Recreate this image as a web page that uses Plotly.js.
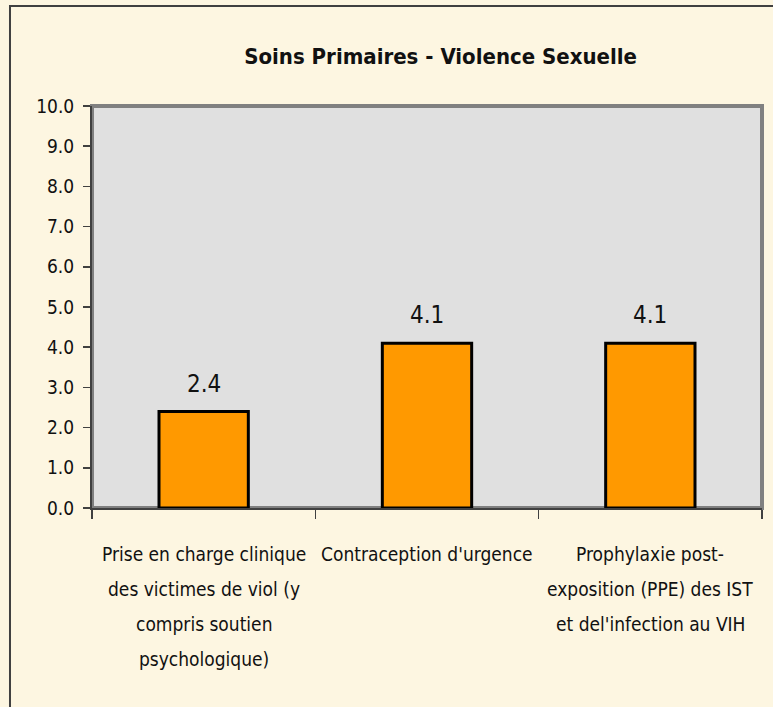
<!DOCTYPE html>
<html><head><meta charset="utf-8">
<script src="https://cdn.plot.ly/plotly-3.0.1.min.js"></script>
<style>html,body{margin:0;padding:0;background:#FDF6E1;} #chart{width:773px;height:707px;}</style>
</head><body><div id="chart"></div>
<script>
const categories = ["Prise en charge clinique des victimes de viol (y compris soutien psychologique)", "Contraception d'urgence", "Prophylaxie post-exposition (PPE) des IST et del'infection au VIH"];
const labelLines = [
  ["Prise en charge clinique", "des victimes de viol (y", "compris soutien", "psychologique)"],
  ["Contraception d'urgence"],
  ["Prophylaxie post-", "exposition (PPE) des IST", "et del'infection au VIH"]
];
const values = [2.4, 4.1, 4.1];
const yTicks = [0, 1, 2, 3, 4, 5, 6, 7, 8, 9, 10];
const yTickText = yTicks.map(v => v.toFixed(1));
const titleText = "Soins Primaires - Violence Sexuelle";

const FONT = "'DejaVu Sans Condensed', 'Liberation Sans Narrow', sans-serif";

const annotations = [];
values.forEach((v, i) => {
  annotations.push({
    x: categories[i], y: v, xref: 'x', yref: 'y',
    text: v.toFixed(1), showarrow: false, yanchor: 'bottom', yshift: 12,
    font: {family: FONT, size: 24, color: '#111'}
  });
});
labelLines.forEach((lines, i) => {
  lines.forEach((ln, j) => {
    annotations.push({
      x: categories[i], y: 0, xref: 'x', yref: 'paper',
      text: ln, showarrow: false, yanchor: 'middle', yshift: -(46 + j * 35),
      font: {family: FONT, size: 19, color: '#111'}
    });
  });
});

const trace = {
  type: 'bar', x: categories, y: values, width: 0.4,
  marker: {color: '#FF9900', line: {color: '#000', width: 3}},
  hoverinfo: 'skip'
};

const layout = {
  width: 773, height: 707,
  margin: {l: 92, r: 11, t: 106, b: 199},
  paper_bgcolor: '#FDF6E1', plot_bgcolor: '#E0E0E0',
  showlegend: false,
  title: {text: titleText, x: 0.57, xanchor: 'center', y: 0.92, yanchor: 'middle',
          font: {family: FONT, size: 22, color: '#111', weight: 'bold'}},
  xaxis: {type: 'category', range: [-0.5, 2.5], showticklabels: false, tickson: 'boundaries', ticks: 'outside',
          ticklen: 9, tickcolor: '#404040', tickwidth: 1.5, showline: true, linecolor: '#404040',
          linewidth: 2, showgrid: false, zeroline: false, fixedrange: true},
  yaxis: {range: [0, 10], tickvals: yTicks, ticktext: yTickText, ticks: 'outside', ticklen: 7,
          ticklabelstandoff: 5,
          tickcolor: '#404040', tickwidth: 1.5, showline: true, linecolor: '#404040', linewidth: 2,
          showgrid: false, zeroline: false, fixedrange: true,
          tickfont: {family: FONT, size: 19, color: '#111'}},
  shapes: [
    {type: 'rect', xref: 'paper', yref: 'paper', x0: 0, x1: 1, y0: 0, y1: 1,
     line: {color: '#808080', width: 4}, fillcolor: 'rgba(0,0,0,0)', layer: 'below'},
    {type: 'rect', xref: 'paper', yref: 'paper', x0: -0.1224, x1: 1.2, y0: -0.8, y1: 1.2488,
     line: {color: '#404040', width: 2}, fillcolor: 'rgba(0,0,0,0)', layer: 'above'}
  ],
  annotations: annotations
};

Plotly.newPlot('chart', [trace], layout, {displayModeBar: false, staticPlot: true});
</script></body></html>
